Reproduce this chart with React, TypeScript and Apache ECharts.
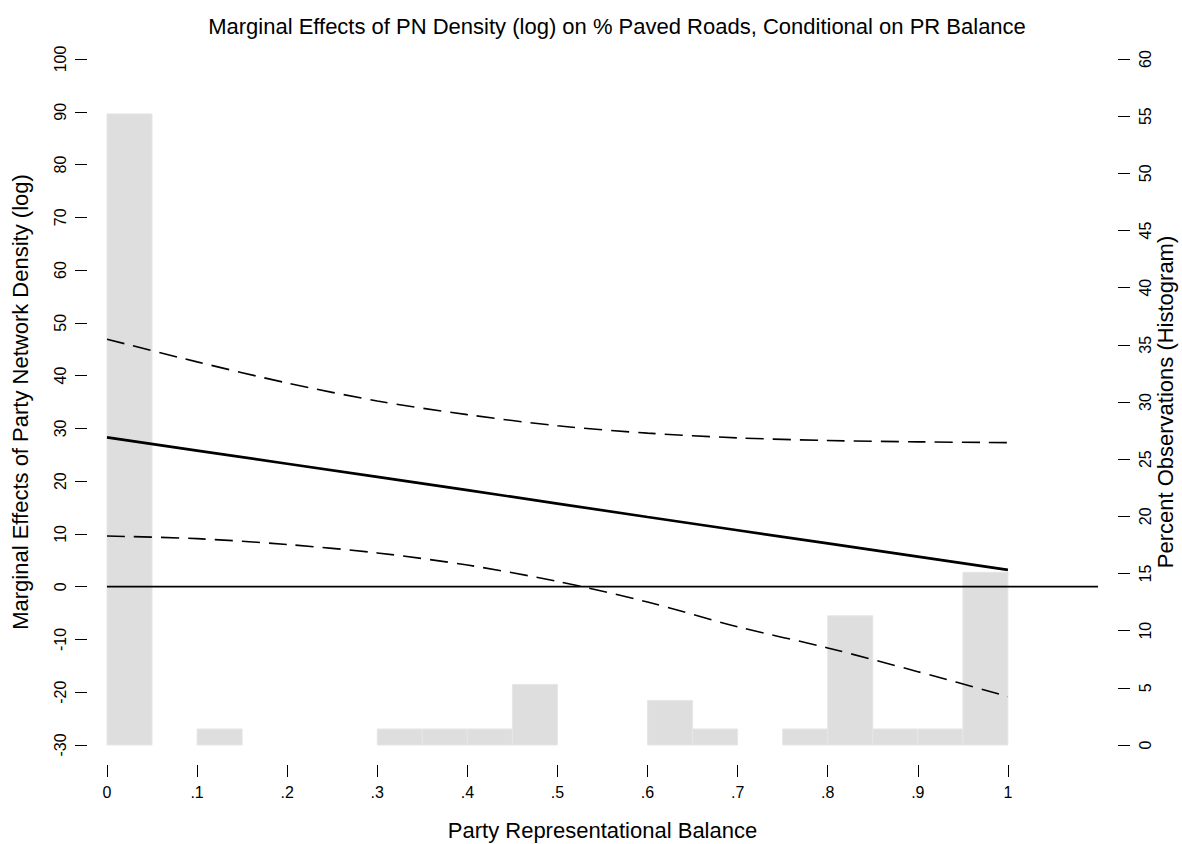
import React, { useEffect, useRef } from "react";
import * as echarts from "echarts";

// Party representational balance grid (x) — also the x tick positions
const balance = [0, 0.1, 0.2, 0.3, 0.4, 0.5, 0.6, 0.7, 0.8, 0.9, 1.0];
// Marginal effect and 95% CI bounds (left axis)
const effect = [28.3, 25.8, 23.3, 20.8, 18.3, 15.75, 13.2, 10.7, 8.2, 5.7, 3.2];
const upperCI = [46.9, 42.6, 38.6, 35.2, 32.6, 30.5, 29.1, 28.2, 27.7, 27.45, 27.3];
const lowerCI = [9.6, 9.1, 8.0, 6.4, 4.1, 1.0, -2.9, -7.6, -11.6, -16.1, -20.8];

// Histogram bins (right axis, percent of observations)
const binStart = [0, 0.1, 0.3, 0.35, 0.4, 0.45, 0.6, 0.65, 0.75, 0.8, 0.85, 0.9, 0.95];
const binEnd = [0.05, 0.15, 0.35, 0.4, 0.45, 0.5, 0.65, 0.7, 0.8, 0.85, 0.9, 0.95, 1.0];
const binPercent = [55.2, 1.4, 1.4, 1.4, 1.4, 5.3, 3.9, 1.4, 1.4, 11.3, 1.4, 1.4, 15.1];

// Zero reference line extent (x)
const zeroLineX = [0, 1.1];

const TITLE = "Marginal Effects of PN Density (log) on % Paved Roads, Conditional on PR Balance";
const X_TITLE = "Party Representational Balance";
const Y_TITLE = "Marginal Effects of Party Network Density (log)";
const Y2_TITLE = "Percent Observations (Histogram)";

const FONT = "'Liberation Sans', Arial, Helvetica, sans-serif";

export default function App() {
  const ref = useRef<HTMLDivElement>(null);

  useEffect(() => {
    if (!ref.current) return;
    const chart = echarts.init(ref.current, null, { renderer: "svg" });

    const pair = (ys: number[]) => balance.map((x, i) => [x, ys[i]]);
    const bins = binStart.map((s, i) => [s, binEnd[i], binPercent[i]]);

    const fmtX = (v: number) => {
      if (Math.abs(v) < 1e-9) return "0";
      if (Math.abs(v - 1) < 1e-9) return "1";
      if (v > 1.0001) return "";
      return v.toFixed(1).replace(/^0/, "");
    };

    const tickStyle = { show: true, length: 12, lineStyle: { color: "#000", width: 1 } };

    chart.setOption({
      animation: false,
      backgroundColor: "#ffffff",
      textStyle: { fontFamily: FONT, color: "#000" },
      title: {
        text: TITLE,
        left: 612,
        top: 10,
        textAlign: "center",
        textStyle: { fontFamily: FONT, fontSize: 22, fontWeight: "normal", color: "#000" },
      },
      grid: {
        left: 107,
        right: 84,
        top: 59,
        bottom: 99,
        containLabel: false,
        outerBoundsMode: "none",
      },
      xAxis: {
        type: "value",
        min: 0,
        max: 1.1,
        interval: 0.1,
        offset: 20,
        axisLine: { show: false, onZero: false },
        axisTick: { ...tickStyle, customValues: balance },
        splitLine: { show: false },
        axisLabel: {
          fontFamily: FONT,
          fontSize: 16,
          color: "#000",
          margin: 19,
          customValues: balance,
          formatter: fmtX,
        },
        name: X_TITLE,
        nameLocation: "middle",
        nameGap: 54,
        nameMoveOverlap: false,
        nameTextStyle: { fontFamily: FONT, fontSize: 22, color: "#000" },
      },
      yAxis: [
        {
          type: "value",
          min: -30,
          max: 100,
          interval: 10,
          position: "left",
          offset: 20,
          axisLine: { show: false, onZero: false },
          axisTick: tickStyle,
          splitLine: { show: false },
          axisLabel: { fontFamily: FONT, fontSize: 16, color: "#000", rotate: 90, margin: 19 },
          name: Y_TITLE,
          nameLocation: "middle",
          nameRotate: 90,
          nameGap: 56,
          nameTextStyle: { fontFamily: FONT, fontSize: 22, color: "#000" },
        },
        {
          type: "value",
          min: 0,
          max: 60,
          interval: 5,
          position: "right",
          offset: 20,
          axisLine: { show: false, onZero: false },
          axisTick: tickStyle,
          splitLine: { show: false },
          axisLabel: { fontFamily: FONT, fontSize: 16, color: "#000", rotate: 90, margin: 19 },
          name: Y2_TITLE,
          nameLocation: "middle",
          nameRotate: 90,
          nameGap: 36,
          nameMoveOverlap: false,
          nameTextStyle: { fontFamily: FONT, fontSize: 22, color: "#000" },
        },
      ],
      series: [
        {
          type: "custom",
          name: "Histogram",
          yAxisIndex: 1,
          data: bins,
          encode: { x: [0, 1], y: 2 },
          renderItem: (params: any, api: any) => {
            const s = api.value(0);
            const e = api.value(1);
            const v = api.value(2);
            const p0 = api.coord([s, 0]);
            const p1 = api.coord([e, v]);
            return {
              type: "rect",
              shape: { x: p0[0], y: p1[1], width: p1[0] - p0[0], height: p0[1] - p1[1] },
              style: { fill: "#dedede", stroke: "#e6e6e6", lineWidth: 1 },
            };
          },
          silent: true,
          z: 1,
        },
        {
          type: "line",
          name: "Zero",
          yAxisIndex: 0,
          data: zeroLineX.map((x) => [x, 0]),
          showSymbol: false,
          symbol: "none",
          lineStyle: { color: "#000", width: 1.7 },
          z: 3,
        },
        {
          type: "line",
          name: "Upper 95% CI",
          yAxisIndex: 0,
          data: pair(upperCI),
          smooth: 0.3,
          symbol: "none",
          lineStyle: { color: "#000", width: 1.6, type: [18, 9] },
          z: 4,
        },
        {
          type: "line",
          name: "Lower 95% CI",
          yAxisIndex: 0,
          data: pair(lowerCI),
          smooth: 0.3,
          symbol: "none",
          lineStyle: { color: "#000", width: 1.6, type: [18, 9] },
          z: 4,
        },
        {
          type: "line",
          name: "Marginal Effect",
          yAxisIndex: 0,
          data: pair(effect),
          symbol: "none",
          lineStyle: { color: "#000", width: 2.7 },
          z: 5,
        },
      ],
    });

    return () => chart.dispose();
  }, []);

  return (
    <div
      ref={ref}
      style={{ position: "fixed", left: 0, top: 0, width: 1182, height: 844, background: "#fff" }}
    />
  );
}
